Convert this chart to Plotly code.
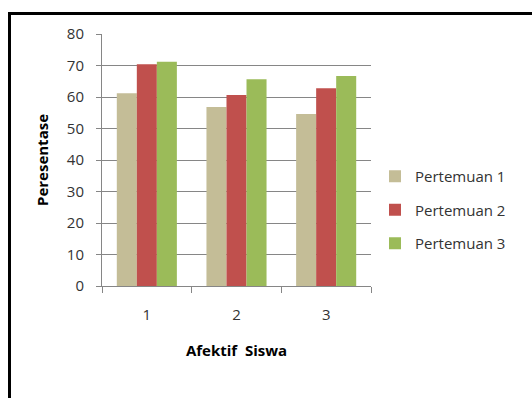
import plotly.graph_objects as go

# Category labels and percentages per meeting
categories = ["1", "2", "3"]
series_names = ["Pertemuan 1", "Pertemuan 2", "Pertemuan 3"]
pertemuan_1 = [61.2, 56.8, 54.6]
pertemuan_2 = [70.4, 60.6, 62.8]
pertemuan_3 = [71.2, 65.6, 66.7]
y_ticks = [0, 10, 20, 30, 40, 50, 60, 70, 80]

colors = ["#C4BD97", "#C0504D", "#9BBB59"]
FONT = "Open Sans"

W, H = 532, 398
L, R, T, B = 102, 161, 34, 112
plot_w = W - L - R
plot_h = H - T - B

fig = go.Figure()
for i, (name, vals) in enumerate(zip(series_names, [pertemuan_1, pertemuan_2, pertemuan_3])):
    fig.add_trace(go.Bar(
        x=categories, y=vals, name=name,
        marker=dict(color=colors[i], line=dict(width=0)),
        legendgroup=name,
    ))

# Outer black frame around the chart (left and top edges visible)
def px_x(px):
    return (px - L) / plot_w

def px_y(py):
    return (H - B - py) / plot_h

fig.add_shape(
    type="rect", xref="paper", yref="paper",
    x0=px_x(9.5), x1=px_x(560), y0=px_y(430), y1=px_y(13.5),
    line=dict(color="black", width=3), fillcolor="rgba(0,0,0,0)",
    layer="above",
)

fig.update_layout(
    width=W, height=H,
    margin=dict(l=L, r=R, t=T, b=B),
    paper_bgcolor="white", plot_bgcolor="white",
    barmode="group", bargap=0.33, bargroupgap=0,
    font=dict(family=FONT, size=15, color="#333333"),
    showlegend=True,
    legend=dict(
        x=px_x(375), y=px_y(210), xanchor="left", yanchor="middle",
        font=dict(family=FONT, size=15, color="#333333"),
        tracegroupgap=11, itemwidth=30,
    ),
    xaxis=dict(
        type="category", tickson="boundaries",
        showline=True, linecolor="#868686", linewidth=1,
        ticks="outside", ticklen=6, tickcolor="#868686",
        ticklabelstandoff=15,
        showgrid=False,
        title=dict(text="<b>Afektif  Siswa</b>", font=dict(family=FONT, size=15, color="black"), standoff=22),
    ),
    yaxis=dict(
        range=[0, 80], tickvals=y_ticks, ticktext=[str(v) for v in y_ticks],
        showline=True, linecolor="#868686", linewidth=1,
        ticks="outside", ticklen=5, tickcolor="#868686",
        showgrid=True, gridcolor="#868686", gridwidth=1,
        zeroline=False, ticklabelstandoff=9,
        title=dict(text="<b>Peresentase</b>", font=dict(family=FONT, size=15, color="black"), standoff=14),
    ),
)

fig.write_html("out.html")
